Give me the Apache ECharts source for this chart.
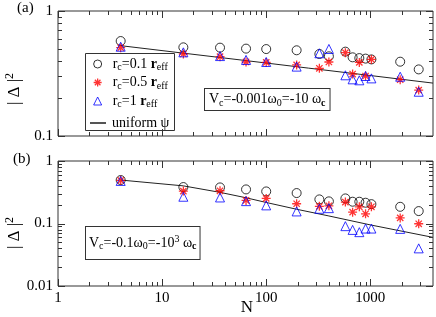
<!DOCTYPE html>
<html><head><meta charset="utf-8">
<script src="https://cdn.jsdelivr.net/npm/echarts@6/dist/echarts.min.js"></script>
<style>html,body{margin:0;padding:0;background:#fff}#c{width:436px;height:317px}</style>
</head><body><div id="c"></div>
<script>
// ---- data ----
const N = [4,16,36,64,100,196,324,400,576,676,784,900,1024,1936,2916];
const a_rc01 = [0.575,0.512,0.509,0.500,0.496,0.485,0.453,0.434,0.473,0.426,0.420,0.416,0.410,0.393,0.341];
const a_rc05 = [0.509,0.453,0.431,0.391,0.388,0.370,0.348,0.391,0.464,0.313,0.388,0.302,0.410,0.282,0.233];
const a_rc1  = [0.518,0.467,0.436,0.406,0.391,0.359,0.459,0.497,0.306,0.284,0.279,0.302,0.289,0.298,0.226];
const a_lineN = [4,16,64,256,1024,4000];
const a_lineV = [0.528,0.460,0.401,0.349,0.304,0.265];
const b_rc01 = [0.496,0.383,0.378,0.351,0.326,0.307,0.243,0.226,0.252,0.223,0.223,0.215,0.204,0.185,0.158];
const b_rc05 = [0.490,0.330,0.334,0.234,0.252,0.207,0.188,0.192,0.220,0.152,0.185,0.143,0.185,0.123,0.099];
const b_rc1  = [0.480,0.268,0.261,0.228,0.195,0.156,0.172,0.176,0.0907,0.079,0.0727,0.083,0.083,0.082,0.040];
const b_lineN = [4,16,36,64,100,196,400,1000,4000];
const b_lineV = [0.496,0.400,0.315,0.258,0.217,0.169,0.132,0.095,0.060];
const xTickLabels = [1,10,100,1000];
const yTickLabelsA = [0.1,1];
const yTickLabelsB = [0.01,0.1,1];
const markerNames = ['rc01','rc05','rc1'];
const lineName = 'uni';

const FONT = 'Liberation Serif';
const AX = '#333';
const pairs = (xs, ys) => xs.map((x,i)=>[x, ys[i]]);

const star = 'path://M5,0L5,10M0,5L10,5M1.5,1.5L8.5,8.5M1.5,8.5L8.5,1.5';

function fmtLabel(list){
  return function(v){
    for (const t of list) if (Math.abs(Math.log10(v) - Math.log10(t)) < 1e-6) return String(t);
    return '';
  };
}

function tickData(xmin,xmax,ymin,ymax){
  const d = [];
  for (let e = Math.round(Math.log10(xmin)); e <= Math.log10(xmax); e++){
    const dec = Math.pow(10,e);
    for (let m=1;m<=9;m++){
      const v = +(m*dec).toPrecision(6);
      if (v>=xmax) break;
      d.push([v, ymin, 0, m===1?1:0]);
    }
  }
  for (let e = Math.round(Math.log10(ymin)); e <= Math.round(Math.log10(ymax)); e++){
    const dec = Math.pow(10,e);
    for (let m=1;m<=9;m++){
      const v = +(m*dec).toPrecision(6);
      if (v>ymax+1e-12) break;
      d.push([xmin, v, 1, m===1?1:0]);
    }
  }
  return d;
}

function tickRender(params, api){
  const flag = api.value(2), major = api.value(3);
  const len = major ? 7 : 4;
  const cs = params.coordSys;
  const p = api.coord([api.value(0), api.value(1)]);
  const st = {stroke: AX, lineWidth: 1};
  if (flag === 0){
    const x = Math.round(p[0]) + 0.5;
    const yb = cs.y + cs.height, yt = cs.y;
    return {type:'group', children:[
      {type:'line', shape:{x1:x,y1:yb,x2:x,y2:yb-len}, style:st},
      {type:'line', shape:{x1:x,y1:yt,x2:x,y2:yt+len}, style:st}
    ]};
  } else {
    const y = Math.round(p[1]) + 0.5;
    const xl = cs.x, xr = cs.x + cs.width;
    return {type:'group', children:[
      {type:'line', shape:{x1:xl,y1:y,x2:xl+len,y2:y}, style:st},
      {type:'line', shape:{x1:xr,y1:y,x2:xr-len,y2:y}, style:st}
    ]};
  }
}

const richBase = {
  n:{fontSize:14, fontFamily:FONT, color:'#000'},
  b:{fontSize:14, fontFamily:FONT, color:'#000', fontWeight:'bold'},
  sub:{fontSize:10, fontFamily:FONT, color:'#000', padding:[7,0,0,0]},
  subb:{fontSize:10, fontFamily:FONT, color:'#000', fontWeight:'bold', padding:[7,0,0,0]},
  sup:{fontSize:10, fontFamily:FONT, color:'#000', padding:[0,0,8,0]},
  sp:{width:6, fontSize:14},
  sp1:{width:1, fontSize:14}
};
const legendText = {
  rc01:'{sp|}{n|r}{sub|c}{n|=0.1 }{b|r}{sub|eff}',
  rc05:'{sp|}{n|r}{sub|c}{n|=0.5 }{b|r}{sub|eff}',
  rc1:'{sp|}{n|r}{sub|c}{n|=1 }{b|r}{sub|eff}',
  uni:'{sp1|}{n|uniform ψ}'
};
const legendIcons = {
  rc01:{icon:'circle', color:'#000', w:1},
  rc05:{icon:star, color:'#ff0000', w:1.3},
  rc1:{icon:'triangle', color:'#0000ff', w:1}
};

function scatterSeries(name, data, xi, symbol, size, color, bw){
  return {name, type:'scatter', xAxisIndex:xi, yAxisIndex:xi, data, symbol, symbolSize:size,
    itemStyle:{color:'rgba(0,0,0,0)', borderColor:color, borderWidth:bw}, z:3};
}

const chart = echarts.init(document.getElementById('c'), null, {renderer:'canvas'});
const axisLabelStyle = {fontFamily:FONT, fontSize:15, color:'#000'};
chart.setOption({
  animation:false,
  grid:[
    {left:58, top:11, width:375, height:125, show:true, borderColor:AX, borderWidth:1, backgroundColor:'rgba(0,0,0,0)'},
    {left:58, top:161, width:375, height:125, show:true, borderColor:AX, borderWidth:1, backgroundColor:'rgba(0,0,0,0)'}
  ],
  xAxis:[
    {type:'log', logBase:10, min:1, max:4000, gridIndex:0, axisLine:{show:false}, axisTick:{show:false}, splitLine:{show:false}, axisLabel:{show:false}},
    {type:'log', logBase:10, min:1, max:4000, gridIndex:1, axisLine:{show:false}, axisTick:{show:false}, splitLine:{show:false},
      axisLabel:Object.assign({margin:5, formatter:fmtLabel(xTickLabels), showMaxLabel:false}, axisLabelStyle)}
  ],
  yAxis:[
    {type:'log', logBase:10, min:0.1, max:1, gridIndex:0, axisLine:{show:false}, axisTick:{show:false}, splitLine:{show:false},
      axisLabel:Object.assign({margin:5, formatter:fmtLabel(yTickLabelsA)}, axisLabelStyle)},
    {type:'log', logBase:10, min:0.01, max:1, gridIndex:1, axisLine:{show:false}, axisTick:{show:false}, splitLine:{show:false},
      axisLabel:Object.assign({margin:5, formatter:fmtLabel(yTickLabelsB)}, axisLabelStyle)}
  ],
  legend:[
    {data:markerNames.map(n=>({name:n, icon:legendIcons[n].icon,
        itemStyle:{color:'rgba(0,0,0,0)', borderColor:legendIcons[n].color, borderWidth:legendIcons[n].w}})),
      orient:'vertical', left:93, top:57, padding:0, z:5,
      itemWidth:8, itemHeight:8, itemGap:3, selectedMode:false,
      itemStyle:{borderWidth:1},
      formatter:(name)=>legendText[name],
      textStyle:{rich:richBase, fontFamily:FONT, fontSize:14}},
    {data:[{name:lineName, icon:'rect', itemStyle:{color:'#555', borderWidth:0}}], orient:'vertical', left:90, top:116, padding:0, z:5,
      itemWidth:16, itemHeight:2, selectedMode:false,
      formatter:(name)=>legendText[name],
      textStyle:{rich:richBase, fontFamily:FONT, fontSize:14}}
  ],
  series:[
    {type:'custom', xAxisIndex:0, yAxisIndex:0, data:tickData(1,4000,0.1,1), renderItem:tickRender, silent:true, clip:false, z:5},
    {type:'custom', xAxisIndex:1, yAxisIndex:1, data:tickData(1,4000,0.01,1), renderItem:tickRender, silent:true, clip:false, z:5},
    {name:lineName, type:'line', xAxisIndex:0, yAxisIndex:0, data:pairs(a_lineN,a_lineV), symbol:'none', lineStyle:{color:'#222', width:1}, itemStyle:{color:'#222'}, z:2},
    {name:lineName, type:'line', xAxisIndex:1, yAxisIndex:1, data:pairs(b_lineN,b_lineV), symbol:'none', lineStyle:{color:'#222', width:1}, itemStyle:{color:'#222'}, z:2},
    scatterSeries('rc01', pairs(N,a_rc01), 0, 'circle', 9, '#000', 1),
    scatterSeries('rc05', pairs(N,a_rc05), 0, star, 9, '#ff0000', 1.3),
    scatterSeries('rc1', pairs(N,a_rc1), 0, 'triangle', 9, '#0000ff', 1),
    scatterSeries('rc01', pairs(N,b_rc01), 1, 'circle', 9, '#000', 1),
    scatterSeries('rc05', pairs(N,b_rc05), 1, star, 9, '#ff0000', 1.3),
    scatterSeries('rc1', pairs(N,b_rc1), 1, 'triangle', 9, '#0000ff', 1)
  ],
  graphic:[
    {type:'rect', z:1, shape:{x:85.5, y:53.5, width:89, height:77}, style:{fill:'#fff', stroke:AX, lineWidth:1}},
    {type:'text', x:17, y:1, style:{text:'(a)', font:'15px "Liberation Serif"', fill:'#000'}},
    {type:'text', x:13, y:152, style:{text:'(b)', font:'15px "Liberation Serif"', fill:'#000'}},
    {type:'text', x:15, y:89, rotation:Math.PI/2,
      style:{text:'{d|| Δ |}{s|2}', align:'center', verticalAlign:'middle',
        rich:{d:{fontSize:17, fontFamily:FONT, color:'#000'}, s:{fontSize:12, fontFamily:FONT, color:'#000', padding:[0,0,10,0]}}}},
    {type:'text', x:15, y:233, rotation:Math.PI/2,
      style:{text:'{d|| Δ |}{s|2}', align:'center', verticalAlign:'middle',
        rich:{d:{fontSize:17, fontFamily:FONT, color:'#000'}, s:{fontSize:12, fontFamily:FONT, color:'#000', padding:[0,0,10,0]}}}},
    {type:'text', x:247, y:308, style:{text:'N', font:'17px "Liberation Serif"', fill:'#000', align:'center', verticalAlign:'middle'}},
    {type:'text', x:205, y:89, z:10,
      style:{text:'{n|V}{sub|c}{n|=-0.001ω}{sub|0}{n|=-10 ω}{subb|c}', rich:richBase,
        backgroundColor:'#fff', borderColor:AX, borderWidth:1, padding:[2,4,2,4]}},
    {type:'text', x:86, y:227, z:10,
      style:{text:'{n|V}{sub|c}{n|=-0.1ω}{sub|0}{n|=-10}{sup|3}{n| ω}{subb|c}', rich:richBase,
        backgroundColor:'#fff', borderColor:AX, borderWidth:1, padding:[7,3,7,3]}}
  ]
});
</script></body></html>
